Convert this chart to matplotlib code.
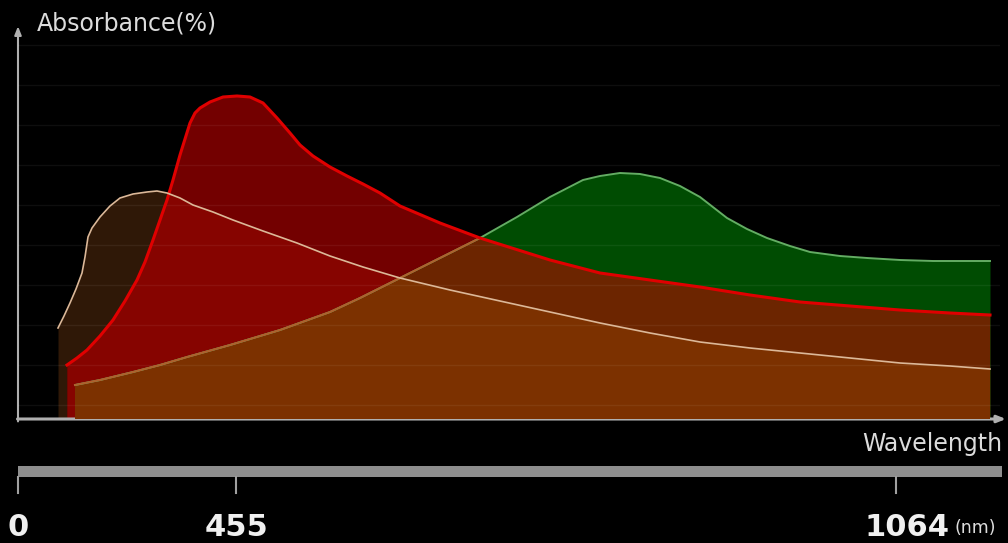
import matplotlib
matplotlib.use("Agg")
import matplotlib.pyplot as plt
from matplotlib.patches import Rectangle

# x: position along the wavelength axis (arbitrary units 0-982), y: absorbance in %
brown_x = [40, 46, 52, 58, 64, 67, 70, 74, 82, 92, 102, 115, 129, 139, 149, 162, 175,
           195, 215, 245, 279, 312, 345, 382, 432, 482, 532, 582, 632, 682, 732, 782,
           832, 882, 932, 972]
brown_y = [22.75, 25.75, 29.0, 32.5, 36.5, 40.5, 45.5, 47.75, 50.5, 53.25, 55.25, 56.25,
           56.75, 57.0, 56.5, 55.25, 53.5, 51.75, 49.75, 47.0, 44.0, 40.75, 38.0, 35.25,
           32.25, 29.5, 26.75, 24.0, 21.5, 19.25, 17.75, 16.5, 15.25, 14.0, 13.25, 12.5]

red_x = [49, 59, 69, 82, 95, 107, 119, 127, 135, 142, 149, 155, 162, 172, 177, 182, 192,
         205, 219, 232, 245, 259, 272, 282, 295, 312, 329, 345, 362, 382, 422, 462, 532,
         582, 632, 682, 732, 782, 832, 882, 932, 972]
red_y = [13.5, 15.25, 17.25, 20.75, 24.75, 29.5, 34.75, 39.25, 44.75, 49.75, 54.75, 59.75,
         66.0, 74.0, 76.5, 77.75, 79.25, 80.5, 80.75, 80.5, 79.0, 75.25, 71.5, 68.5,
         65.75, 63.0, 60.75, 58.75, 56.5, 53.25, 49.0, 45.25, 39.75, 36.5, 34.75, 33.0,
         31.0, 29.25, 28.25, 27.25, 26.5, 26.0]

green_x = [57, 82, 115, 142, 169, 212, 262, 312, 342, 382, 422, 462, 499, 532, 565, 582,
           602, 622, 642, 662, 682, 709, 729, 749, 772, 792, 822, 849, 882, 915, 972]
green_y = [8.5, 9.75, 11.75, 13.5, 15.5, 18.5, 22.25, 26.75, 30.25, 35.25, 40.25, 45.25,
           50.5, 55.5, 59.75, 60.75, 61.5, 61.25, 60.25, 58.25, 55.5, 50.25, 47.5, 45.25,
           43.25, 41.75, 40.75, 40.25, 39.75, 39.5, 39.5]

grid_levels = [3.5, 13.5, 23.5, 33.5, 43.5, 53.5, 63.5, 73.5, 83.5, 93.5]

scale_labels = ["0", "455", "1064"]
scale_pos = [0.0, 0.222, 0.892]  # fraction of the scale bar length
label_shift = [0, 0, 11]  # px nudge of the label from its tick

fig = plt.figure(figsize=(10.08, 5.43), dpi=100, facecolor="black")
ax = fig.add_axes([18 / 1008, 124 / 543, 982 / 1008, 400 / 543])
ax.set_facecolor("black")
ax.set_xlim(0, 982)
ax.set_ylim(0, 100)
ax.axis("off")

# base fills
fb = ax.fill_between(brown_x, 0, brown_y, color="#2f1807", lw=0, zorder=1)
fr = ax.fill_between(red_x, 0, red_y, color="#730000", lw=0, zorder=2)
over = ax.fill_between(red_x, 0, red_y, color="#860400", lw=0, zorder=2.1)
over.set_clip_path(fb.get_paths()[0], ax.transData)
fg = ax.fill_between(green_x, 0, green_y, color="#004c02", lw=0, zorder=3)

# overlaps
gr = ax.fill_between(green_x, 0, green_y, color="#6c2500", lw=0, zorder=3.1)
gr.set_clip_path(fr.get_paths()[0], ax.transData)
bg = ax.fill_between(brown_x, 0, brown_y, color="#7c3100", lw=0, zorder=3.2)
bg.set_clip_path(fg.get_paths()[0], ax.transData)

for g in grid_levels:
    ax.axhline(g, color="white", alpha=0.06, lw=1, zorder=4)

# outlines
ax.plot(green_x, green_y, color="#63ad63", lw=1.4, zorder=5)
gl = ax.plot(green_x, green_y, color="#b0602c", lw=1.4, zorder=5.1)[0]
gl.set_clip_path(fr.get_paths()[0], ax.transData)
ax.plot(red_x, red_y, color="#e00000", lw=2.2, zorder=6)
ax.plot(brown_x, brown_y, color="#dcb898", lw=1.2, zorder=7)

# axes with arrows
ax.annotate("", xy=(0, 98.2), xytext=(0, -0.6), annotation_clip=False,
            arrowprops=dict(arrowstyle="-|>,head_length=0.5,head_width=0.2",
                            color="#b0b0b0", lw=1.5, shrinkA=0, shrinkB=0))
ax.annotate("", xy=(988, 0), xytext=(-0.5, 0), annotation_clip=False,
            arrowprops=dict(arrowstyle="-|>,head_length=0.5,head_width=0.2",
                            color="#b0b0b0", lw=2.2, shrinkA=0, shrinkB=0))

# decoration layer in pixel units
deco = fig.add_axes([0, 0, 1, 1])
deco.set_xlim(0, 1008)
deco.set_ylim(543, 0)
deco.axis("off")

deco.text(37, 24, "Absorbance(%)", ha="left", va="center", fontsize=17, color="#dcdcdc")
deco.text(1002, 444, "Wavelength", ha="right", va="center", fontsize=17, color="#dcdcdc")

bar_left, bar_len = 18, 984
deco.add_patch(Rectangle((bar_left, 466), bar_len, 11, color="#8e8e8e", lw=0))
for lab, p, s in zip(scale_labels, scale_pos, label_shift):
    xp = bar_left + p * bar_len
    deco.plot([xp, xp], [477, 493], color="#a0a0a0", lw=1.5)
    deco.text(xp + s, 536, lab, ha="center", va="baseline", fontsize=22,
              fontweight="bold", color="#f0f0f0")
deco.text(955, 533, "(nm)", ha="left", va="baseline", fontsize=12.5, color="#dcdcdc")

fig.savefig("out.png", dpi=100, facecolor="black")
